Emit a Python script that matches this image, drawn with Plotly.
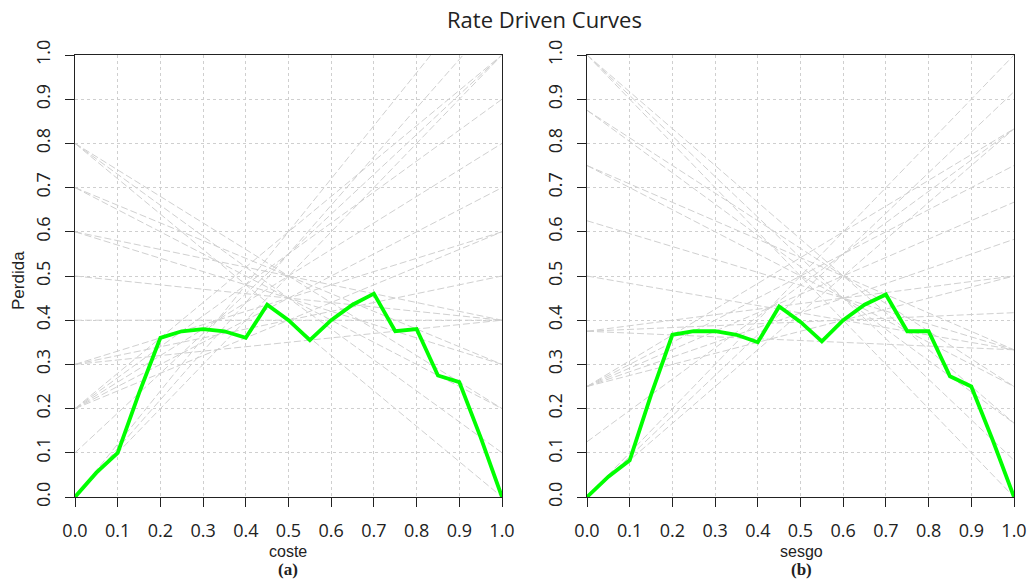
import plotly.graph_objects as go

# x positions of the rate-driven curve vertices
x_pts = [0.0, 0.05, 0.1, 0.15, 0.2, 0.25, 0.3, 0.35, 0.4, 0.45, 0.5,
         0.55, 0.6, 0.65, 0.7, 0.75, 0.8, 0.85, 0.9, 0.95, 1.0]

# (a) coste: cost lines, value at x=0 and at x=1
cost_start = [0.0, 0.0, 0.0, 0.1, 0.2, 0.2, 0.2, 0.2, 0.2, 0.3, 0.3,
              0.3, 0.4, 0.5, 0.6, 0.6, 0.7, 0.7, 0.8, 0.8, 0.8]
cost_end = [1.2, 1.1, 1.0, 1.0, 1.0, 0.9, 0.8, 0.7, 0.6, 0.6, 0.5,
            0.4, 0.4, 0.4, 0.4, 0.3, 0.3, 0.2, 0.2, 0.1, 0.0]
cost_curve = [0.0, 0.055, 0.1, 0.235, 0.36, 0.375, 0.38, 0.375, 0.36, 0.435, 0.4,
              0.355, 0.4, 0.435, 0.46, 0.375, 0.38, 0.275, 0.26, 0.135, 0.0]

# (b) sesgo: skew lines, value at x=0 and at x=1
skew_start = [0.0, 0.0, 0.0, 0.125, 0.25, 0.25, 0.25, 0.25, 0.25, 0.375, 0.375,
              0.375, 0.5, 0.625, 0.75, 0.75, 0.875, 0.875, 1.0, 1.0, 1.0]
skew_end = [1.0, 0.917, 0.833, 0.833, 0.833, 0.75, 0.667, 0.583, 0.5, 0.5, 0.417,
            0.333, 0.333, 0.333, 0.333, 0.25, 0.25, 0.167, 0.167, 0.083, 0.0]
skew_curve = [0.0, 0.046, 0.083, 0.231, 0.367, 0.375, 0.375, 0.367, 0.35, 0.431, 0.396,
              0.352, 0.4, 0.435, 0.458, 0.375, 0.375, 0.273, 0.25, 0.129, 0.0]

tick_vals = [0.0, 0.1, 0.2, 0.3, 0.4, 0.5, 0.6, 0.7, 0.8, 0.9, 1.0]
tick_text = ["0.0", "0.1", "0.2", "0.3", "0.4", "0.5", "0.6", "0.7", "0.8", "0.9", "1.0"]

W, H = 1027, 579
def px(x):
    return x / W
def py(y):
    return (H - y) / H

fig = go.Figure()

GRAY = "#d0d0d0"
GREEN = "#00ff00"

for s, e in zip(cost_start, cost_end):
    fig.add_trace(go.Scatter(x=[0, 1], y=[s, e], mode="lines", xaxis="x", yaxis="y",
                             line=dict(color=GRAY, width=1, dash="7px,3px"),
                             hoverinfo="skip", showlegend=False))
fig.add_trace(go.Scatter(x=x_pts, y=cost_curve, mode="lines", xaxis="x", yaxis="y",
                         line=dict(color=GREEN, width=3.8), showlegend=False))

for s, e in zip(skew_start, skew_end):
    fig.add_trace(go.Scatter(x=[0, 1], y=[s, e], mode="lines", xaxis="x2", yaxis="y2",
                             line=dict(color=GRAY, width=1, dash="7px,3px"),
                             hoverinfo="skip", showlegend=False))
fig.add_trace(go.Scatter(x=x_pts, y=skew_curve, mode="lines", xaxis="x2", yaxis="y2",
                         line=dict(color=GREEN, width=3.8), showlegend=False))

tick_font = dict(family="Open Sans", size=18, color="#222222")
common = dict(range=[0, 1], tickvals=tick_vals, ticktext=tick_text,
              showline=True, mirror=True, linecolor="#222222", linewidth=1.3,
              ticks="outside", ticklen=9, tickwidth=1.2, tickcolor="#222222",
              showgrid=True, gridcolor="#cfcfcf", gridwidth=1, griddash="dot",
              zeroline=False, tickfont=tick_font, ticklabelstandoff=8,
              automargin=False, fixedrange=True)

y0, y1 = py(497), py(55)
fig.update_layout(
    width=W, height=H,
    margin=dict(l=0, r=0, t=0, b=0),
    paper_bgcolor="white", plot_bgcolor="white",
    showlegend=False,
    xaxis=dict(domain=[px(75), px(502)], anchor="y", **common),
    yaxis=dict(domain=[y0, y1], anchor="x", tickangle=-90, **common),
    xaxis2=dict(domain=[px(587), px(1014)], anchor="y2", **common),
    yaxis2=dict(domain=[y0, y1], anchor="x2", tickangle=-90, **common),
)

ann = [
    dict(text="Rate Driven Curves", x=px(544), y=py(19),
         font=dict(family="Open Sans", size=22, color="#222222")),
    dict(text="coste", x=px(288), y=py(551),
         font=dict(family="Liberation Sans", size=16, color="#222222")),
    dict(text="<b>(a)</b>", x=px(288), y=py(569),
         font=dict(family="Liberation Serif", size=17, color="#222222")),
    dict(text="sesgo", x=px(801), y=py(551),
         font=dict(family="Liberation Sans", size=16, color="#222222")),
    dict(text="<b>(b)</b>", x=px(801), y=py(569),
         font=dict(family="Liberation Serif", size=17, color="#222222")),
    dict(text="Perdida", x=px(18), y=py(281), textangle=-90,
         font=dict(family="Liberation Sans", size=17, color="#222222")),
]
for a in ann:
    fig.add_annotation(xref="paper", yref="paper", showarrow=False,
                       xanchor="center", yanchor="middle", **a)

fig.write_html("out.html")
